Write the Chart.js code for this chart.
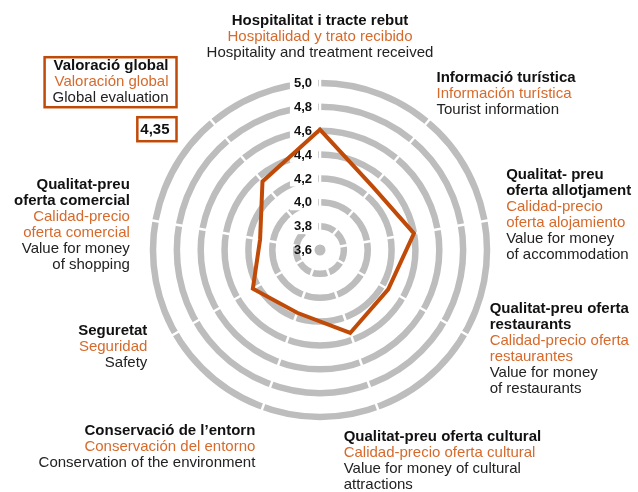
<!DOCTYPE html>
<html>
<head>
<meta charset="utf-8">
<script src="https://cdn.jsdelivr.net/npm/chart.js@4"></script>
<style>
  html, body { margin: 0; padding: 0; background: #fff; }
</style>
</head>
<body>
<canvas id="chart" width="638" height="492"></canvas>
<script>
// categories, three languages each (ca / es / en), clockwise from the top
const labelsCa = [
  ['Hospitalitat i tracte rebut'],
  ['Informació turística'],
  ['Qualitat- preu', 'oferta allotjament'],
  ['Qualitat-preu oferta', 'restaurants'],
  ['Qualitat-preu oferta cultural'],
  ['Conservació de l\u2019entorn'],
  ['Seguretat'],
  ['Qualitat-preu', 'oferta comercial'],
  ['Valoració global']
]
const labelsEs = [
  ['Hospitalidad y trato recibido'],
  ['Información turística'],
  ['Calidad-precio', 'oferta alojamiento'],
  ['Calidad-precio oferta', 'restaurantes'],
  ['Calidad-precio oferta cultural'],
  ['Conservación del entorno'],
  ['Seguridad'],
  ['Calidad-precio', 'oferta comercial'],
  ['Valoración global']
]
const labelsEn = [
  ['Hospitality and treatment received'],
  ['Tourist information'],
  ['Value for money', 'of accommodation'],
  ['Value for money', 'of restaurants'],
  ['Value for money of cultural', 'attractions'],
  ['Conservation of the environment'],
  ['Safety'],
  ['Value for money', 'of shopping'],
  ['Global evaluation']
]
const scores = [4.61, 4.29, 4.40, 4.26, 4.34, 4.16, 4.25, 4.11, 4.35]
const scaleMin = 3.6
const scaleMax = 5.0
const scaleStep = 0.2

const FONT = '"Liberation Sans", Arial, Helvetica, sans-serif'
const DARK_ORANGE = '#c04a08'
const ORANGE = '#d66a2c'
const GRAY = '#bdbdbd'
const LINE_H = 16

// where each label block sits relative to its axis end
const labelLayout = [
  { align: 'center', valign: 'bottom', dx: 0, dy: 0 },
  { align: 'left', valign: 'bottom', dx: -5, dy: 13 },
  { align: 'left', valign: 'middle', dx: 0, dy: -2 },
  { align: 'left', valign: 'middle', dx: 6, dy: 4 },
  { align: 'left', valign: 'top', dx: -41, dy: 1 },
  { align: 'right', valign: 'top', dx: 0, dy: -5 },
  { align: 'right', valign: 'middle', dx: -9, dy: 2 },
  { align: 'right', valign: 'middle', dx: -4, dy: 8 },
  { align: 'right', valign: 'bottom', dx: -22, dy: 2 }
]

const fmt = v => v.toFixed(2).replace('.', ',')
const fmtTick = v => v.toFixed(1).replace('.', ',')

function blockLines(i) {
  const out = []
  labelsCa[i].forEach(t => out.push({ t, font: 'bold 15px ' + FONT, color: '#111' }))
  labelsEs[i].forEach(t => out.push({ t, font: '15px ' + FONT, color: ORANGE }))
  labelsEn[i].forEach(t => out.push({ t, font: '15px ' + FONT, color: '#222' }))
  return out
}

const radarDecor = {
  id: 'radarDecor',
  beforeDatasetsDraw(chart) {
    const ctx = chart.ctx
    const r = chart.scales.r
    const R = r.drawingArea
    ctx.save()

    // white spokes cutting the rings
    ctx.strokeStyle = '#fff'
    ctx.lineWidth = 2.5
    for (let i = 0; i < scores.length; i++) {
      const p = r.getPointPosition(i, R + 6)
      ctx.beginPath()
      ctx.moveTo(r.xCenter, r.yCenter)
      ctx.lineTo(p.x, p.y)
      ctx.stroke()
    }

    // centre dot for the minimum value
    ctx.fillStyle = GRAY
    ctx.beginPath()
    ctx.arc(r.xCenter, r.yCenter, 5.5, 0, Math.PI * 2)
    ctx.fill()

    // tick labels left of the vertical axis
    ctx.font = 'bold 13px ' + FONT
    ctx.textBaseline = 'middle'
    ctx.textAlign = 'right'
    r.ticks.forEach(tk => {
      const y = r.yCenter - r.getDistanceFromCenterForValue(tk.value)
      const txt = fmtTick(tk.value)
      const w = ctx.measureText(txt).width
      const xr = r.xCenter - 8
      if (tk.value > scaleMin + 1e-6) {
        ctx.fillStyle = '#fff'
        ctx.fillRect(xr - w - 4, y - 8, w + 10, 16)
      }
      ctx.fillStyle = '#111'
      ctx.fillText(txt, xr, y + 0.5)
    })

    // category labels
    for (let i = 0; i < scores.length; i++) {
      const lay = labelLayout[i]
      const p = r.getPointPosition(i, R + 22)
      const x = p.x + lay.dx
      const y = p.y + lay.dy
      const lines = blockLines(i)
      const h = lines.length * LINE_H
      let top = lay.valign === 'top' ? y : lay.valign === 'bottom' ? y - h : y - h / 2

      if (i === scores.length - 1) {
        // global evaluation: boxed title plus boxed value
        const valTop = y + 10
        top = y - h - 1
        let maxW = 0
        lines.forEach(l => { ctx.font = l.font; maxW = Math.max(maxW, ctx.measureText(l.t).width) })
        ctx.strokeStyle = DARK_ORANGE
        ctx.lineWidth = 2.5
        ctx.strokeRect(x - maxW - 16, top - 1, maxW + 16, h + 2)
        ctx.textAlign = 'right'
        ctx.textBaseline = 'middle'
        lines.forEach((l, k) => {
          ctx.font = l.font
          ctx.fillStyle = l.color
          ctx.fillText(l.t, x - 8, top + LINE_H / 2 + k * LINE_H)
        })
        ctx.font = 'bold 15px ' + FONT
        const vt = fmt(scores[i])
        const vw = ctx.measureText(vt).width
        ctx.strokeRect(x - vw - 10, valTop, vw + 10, 24)
        ctx.fillStyle = '#111'
        ctx.fillText(vt, x - 7, valTop + 12.5)
        continue
      }

      ctx.textAlign = lay.align
      ctx.textBaseline = 'middle'
      lines.forEach((l, k) => {
        ctx.font = l.font
        ctx.fillStyle = l.color
        ctx.fillText(l.t, x, top + LINE_H / 2 + k * LINE_H)
      })
    }
    ctx.restore()
  }
}

new Chart(document.getElementById('chart').getContext('2d'), {
  type: 'radar',
  data: {
    labels: labelsCa.map(l => l.join(' ')),
    datasets: [{
      label: 'Valoració',
      data: scores,
      borderColor: DARK_ORANGE,
      borderWidth: 4,
      borderJoinStyle: 'miter',
      backgroundColor: 'transparent',
      fill: false,
      pointRadius: 0,
      pointHoverRadius: 0,
      tension: 0
    }]
  },
  options: {
    responsive: false,
    animation: false,
    events: [],
    layout: {
      padding: { top: 83, bottom: 75, left: 2, right: 0 }
    },
    plugins: {
      legend: { display: false },
      tooltip: { enabled: false }
    },
    scales: {
      r: {
        min: scaleMin,
        max: scaleMax,
        beginAtZero: false,
        ticks: { display: false, stepSize: scaleStep },
        pointLabels: { display: false },
        angleLines: { display: false },
        grid: {
          circular: true,
          color: GRAY,
          lineWidth: 6.5
        }
      }
    }
  },
  plugins: [radarDecor]
})
</script>
</body>
</html>
